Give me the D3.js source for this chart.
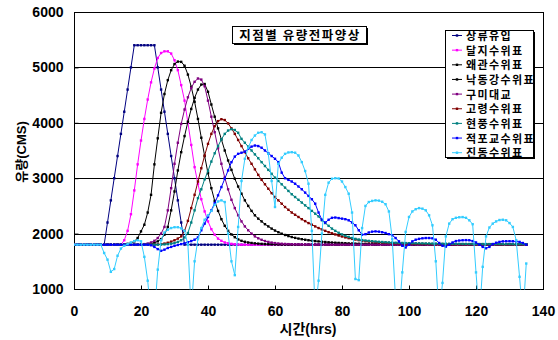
<!DOCTYPE html>
<html><head><meta charset="utf-8">
<script src="https://cdn.jsdelivr.net/npm/d3@7"></script>
<style>body{margin:0;background:#fff}</style>
</head><body><svg id="c" width="558" height="340"></svg>
<script>
const titleText = "지점별 유량전파양상";
const xLabel = "시간(hrs)";
const yLabel = "유량(CMS)";
const seriesNames = ["상류유입","달지수위표","왜관수위표","낙동강수위표","구미대교","고령수위표","현풍수위표","적포교수위표","진동수위표"];
const colors = ["#000080","#FF00FF","#000000","#000000","#800080","#800000","#008080","#0000FF","#33CCFF"];
const xTicks = [0,20,40,60,80,100,120,140];
const yTicks = [1000,2000,3000,4000,5000,6000];
const hours = d3.range(0,136);

const sangryu = [1800,1800,1800,1800,1800,1800,1800,1800,1800,1800,
 2200,2600,3000,3400,3800,4200,4600,5000,5400,5400,
 5400,5400,5400,5400,5400,5000,4600,4200,3800,3400,
 3000,2600,2200,1800,1800,1800,1800,1800,1800,1800,
 1800,1800,1800,1800,1800,1800,1800,1800,1800,1800,
 1800,1800,1800,1800,1800,1800,1800,1800,1800,1800,
 1800,1800,1800,1800,1800,1800,1800,1800,1800,1800,
 1800,1800,1800,1800,1800,1800,1800,1800,1800,1800,
 1800,1800,1800,1800,1800,1800,1800,1800,1800,1800,
 1800,1800,1800,1800,1800,1800,1800,1800,1800,1800,
 1800,1800,1800,1800,1800,1800,1800,1800,1800,1800,
 1800,1800,1800,1800,1800,1800,1800,1800,1800,1800,
 1800,1800,1800,1800,1800,1800,1800,1800,1800,1800,
 1800,1800,1800,1800,1800,1800];
const dalji = [1800,1800,1800,1800,1800,1800,1800,1800,1800,1800,
 1800,1800,1800,1800,1800,1880,2050,2350,2780,3250,
 3680,4070,4420,4730,4980,5170,5260,5290,5290,5250,
 5130,4950,4680,4400,4000,3600,3200,2900,2620,2400,
 2220,2080,1980,1910,1870,1840,1825,1815,1808,1803,
 1800,1800,1800,1800,1800,1800,1800,1800,1800,1800,
 1800,1800,1800,1800,1800,1800,1800,1800,1800,1800,
 1800,1800,1800,1800,1800,1800,1800,1800,1800,1800,
 1800,1800,1800,1800,1800,1800,1800,1800,1800,1800,
 1800,1800,1800,1800,1800,1800,1800,1800,1800,1800,
 1800,1800,1800,1800,1800,1800,1800,1800,1800,1800,
 1800,1800,1800,1800,1800,1800,1800,1800,1800,1800,
 1800,1800,1800,1800,1800,1800,1800,1800,1800,1800,
 1800,1800,1800,1800,1800,1800];
const waegwan = [1800,1800,1800,1800,1800,1800,1800,1800,1800,1800,
 1800,1800,1800,1800,1800,1805,1815,1830,1860,1920,
 2040,2160,2380,2700,3250,3720,4180,4520,4770,4950,
 5060,5105,5100,5030,4870,4650,4380,4070,3730,3400,
 3090,2820,2590,2410,2260,2140,2050,1985,1935,1895,
 1870,1852,1840,1831,1824,1819,1815,1811,1808,1806,
 1804,1803,1802,1801,1800,1800,1800,1800,1800,1800,
 1800,1800,1800,1800,1800,1800,1800,1800,1800,1800,
 1800,1800,1800,1800,1800,1800,1800,1800,1800,1800,
 1800,1800,1800,1800,1800,1800,1800,1800,1800,1800,
 1800,1800,1800,1800,1800,1800,1800,1800,1800,1800,
 1800,1800,1800,1800,1800,1800,1800,1800,1800,1800,
 1800,1800,1800,1800,1800,1800,1800,1800,1800,1800,
 1800,1800,1800,1800,1800,1800];
const nakdong = [1800,1800,1800,1800,1800,1800,1800,1800,1800,1800,
 1800,1800,1800,1800,1800,1800,1800,1800,1800,1800,
 1800,1805,1810,1820,1835,1860,1900,1980,2120,2420,
 2760,3140,3470,3760,4020,4250,4450,4600,4690,4700,
 4560,4330,4110,3900,3700,3500,3320,3150,2990,2850,
 2720,2600,2500,2410,2330,2270,2220,2170,2130,2090,
 2055,2025,1998,1975,1955,1938,1923,1910,1899,1889,
 1880,1872,1865,1859,1853,1848,1843,1839,1835,1832,
 1829,1826,1823,1821,1819,1817,1815,1813,1812,1811,
 1810,1809,1808,1807,1806,1805,1804,1803,1802,1801,
 1800,1800,1800,1800,1800,1800,1800,1800,1800,1800,
 1800,1800,1800,1800,1800,1800,1800,1800,1800,1800,
 1800,1800,1800,1800,1800,1800,1800,1800,1800,1800,
 1800,1800,1800,1800,1800,1800];
const gumi = [1800,1800,1800,1800,1800,1800,1800,1800,1800,1800,
 1800,1800,1800,1800,1800,1800,1800,1800,1800,1800,
 1805,1810,1820,1840,1870,1920,2000,2120,2420,2820,
 3260,3640,3980,4240,4460,4630,4740,4800,4780,4660,
 4400,4110,3830,3540,3260,3010,2800,2610,2460,2330,
 2220,2130,2060,2000,1950,1915,1888,1866,1850,1838,
 1829,1822,1817,1813,1810,1808,1806,1804,1803,1802,
 1801,1800,1800,1800,1800,1800,1800,1800,1800,1800,
 1800,1800,1800,1800,1800,1800,1800,1800,1800,1800,
 1800,1800,1800,1800,1800,1800,1800,1800,1800,1800,
 1800,1800,1800,1800,1800,1800,1800,1800,1800,1800,
 1800,1800,1800,1800,1800,1800,1800,1800,1800,1800,
 1800,1800,1800,1800,1800,1800,1800,1800,1800,1800,
 1800,1800,1800,1800,1800,1800];
const goryeong = [1800,1800,1800,1800,1800,1800,1800,1800,1800,1800,
 1800,1800,1800,1800,1800,1800,1800,1800,1800,1800,
 1800,1800,1800,1800,1800,1805,1810,1820,1835,1855,
 1880,1910,1950,2050,2230,2460,2700,2940,3180,3410,
 3620,3800,3940,4030,4065,4050,3990,3900,3800,3690,
 3580,3470,3360,3260,3160,3060,2970,2890,2810,2730,
 2660,2600,2540,2480,2430,2380,2340,2300,2260,2225,
 2190,2160,2130,2100,2075,2050,2025,2005,1985,1965,
 1948,1932,1918,1905,1893,1882,1872,1864,1857,1851,
 1846,1841,1837,1834,1831,1828,1826,1824,1822,1820,
 1819,1818,1817,1816,1815,1814,1813,1812,1812,1811,
 1811,1810,1810,1810,1809,1809,1809,1808,1808,1808,
 1807,1807,1807,1806,1806,1806,1806,1805,1805,1805,
 1805,1805,1804,1804,1804,1804];
const hyeonpung = [1800,1800,1800,1800,1800,1800,1800,1800,1800,1800,
 1800,1800,1800,1800,1800,1800,1800,1800,1800,1800,
 1800,1800,1800,1800,1800,1800,1802,1805,1810,1818,
 1830,1850,1880,1930,2010,2200,2420,2640,2800,2980,
 3130,3300,3450,3580,3700,3800,3860,3885,3870,3820,
 3710,3640,3570,3500,3430,3360,3290,3220,3150,3080,
 3010,2950,2890,2830,2770,2710,2660,2610,2560,2510,
 2460,2410,2360,2310,2240,2190,2140,2090,2050,2015,
 1985,1960,1940,1920,1905,1893,1883,1875,1868,1862,
 1857,1852,1848,1844,1841,1838,1835,1833,1831,1829,
 1827,1826,1825,1824,1823,1822,1821,1820,1819,1818,
 1817,1817,1816,1816,1815,1815,1814,1814,1813,1813,
 1813,1812,1812,1812,1811,1811,1811,1810,1810,1810,
 1810,1810,1809,1809,1809,1809];
const jeokpo = [1800,1800,1800,1800,1800,1800,1800,1800,1800,1800,
 1800,1800,1800,1800,1800,1800,1800,1800,1800,1800,
 1800,1800,1800,1790,1760,1720,1690,1710,1740,1760,
 1780,1795,1810,1825,1845,1865,1890,1930,2060,2180,
 2300,2420,2550,2690,2840,2990,3140,3290,3390,3440,
 3460,3480,3530,3570,3590,3580,3550,3500,3450,3400,
 3350,3290,3100,3000,2970,2940,2900,2850,2800,2740,
 2680,2620,2540,2380,2250,2200,2250,2285,2290,2280,
 2270,2260,2240,2200,2150,2060,1980,1990,2020,2035,
 2040,2035,2025,2010,1990,1970,1920,1860,1780,1750,
 1800,1860,1890,1905,1915,1920,1920,1915,1890,1830,
 1780,1765,1800,1840,1865,1875,1880,1882,1880,1865,
 1840,1800,1760,1735,1760,1810,1835,1850,1860,1862,
 1863,1862,1858,1850,1830,1800];
const jindong = [1800,1800,1800,1800,1800,1800,1800,1800,1800,1650,
 1530,1310,1360,1600,1730,1780,1810,1840,1865,1880,
 1860,1580,1150,500,500,1350,1880,2020,2070,2100,
 2115,2115,2095,2050,1800,600,1500,1900,2100,2250,
 2330,2410,2520,2580,2600,2570,2000,1500,1250,2120,
 2950,3350,3550,3690,3770,3820,3830,3790,3440,2950,
 2480,3260,3370,3440,3465,3470,3460,3410,3290,3130,
 2900,2050,600,1150,2000,2700,2920,2990,3000,2995,
 2940,2840,2720,2380,1180,1160,2100,2500,2570,2590,
 2600,2595,2575,2530,2400,1900,800,500,1300,2030,
 2300,2400,2440,2460,2450,2420,2330,2150,1500,500,
 1110,1950,2180,2260,2285,2295,2298,2285,2240,2170,
 1300,500,1400,1950,2110,2180,2220,2245,2250,2240,
 2190,2120,1880,1220,500,1460];

const seriesValues = [sangryu,dalji,waegwan,nakdong,gumi,goryeong,hyeonpung,jeokpo,jindong];

const svg = d3.select('#c');
const L=74,R=543,T=12,B=289;
const x = d3.scaleLinear().domain([0,140]).range([L,R]);
const y = d3.scaleLinear().domain([1000,6000]).range([B,T]);
const numFont = '"Liberation Sans", Arial, sans-serif';
const korFont = '"Liberation Sans", "Noto Sans CJK KR", sans-serif';

// gridlines
svg.append('g').selectAll('line').data(yTicks.filter(v=>v>1000&&v<6000)).join('line')
  .attr('x1',L).attr('x2',R).attr('y1',d=>Math.round(y(d))+0.5).attr('y2',d=>Math.round(y(d))+0.5)
  .attr('stroke','#000').attr('stroke-width',1);

// frame
svg.append('rect').attr('x',L+0.5).attr('y',T+0.5).attr('width',R-L).attr('height',B-T)
  .attr('fill','none').attr('stroke','#000').attr('stroke-width',1);

// axes
const ya = svg.append('g').attr('transform',`translate(${L+0.5},0)`)
  .call(d3.axisLeft(y).tickValues(yTicks).tickSizeInner(-4).tickSizeOuter(0).tickPadding(11).tickFormat(d3.format('d')));
const xa = svg.append('g').attr('transform',`translate(0,${B+0.5})`)
  .call(d3.axisBottom(x).tickValues(xTicks).tickSizeInner(-4).tickSizeOuter(0).tickPadding(17).tickFormat(d3.format('d')));
[ya,xa].forEach(a=>{
  a.select('.domain').remove();
  a.selectAll('.tick line').attr('stroke','#000');
  a.selectAll('text').attr('font-family',numFont).attr('font-weight','bold').attr('font-size','14px').attr('fill','#000');
});

// clip
svg.append('clipPath').attr('id','plotclip').append('rect').attr('x',L).attr('y',T).attr('width',R-L).attr('height',B-T+0.5);
const plot = svg.append('g').attr('clip-path','url(#plotclip)');
const line = d3.line().x((d,i)=>x(hours[i])).y(d=>y(d));
seriesValues.forEach((vals,si)=>{
  const g = plot.append('g');
  g.append('path').datum(vals).attr('d',line).attr('fill','none').attr('stroke',colors[si]).attr('stroke-width',1);
  g.selectAll('rect').data(vals).join('rect')
    .attr('x',(d,i)=>x(hours[i])-1.2).attr('y',d=>y(d)-1.2).attr('width',2.4).attr('height',2.4)
    .attr('fill',colors[si]);
});

// axis titles
svg.append('text').attr('x',308).attr('y',334).attr('text-anchor','middle')
  .attr('font-family',korFont).attr('font-weight','bold').attr('font-size','14px').text(xLabel);
svg.append('text').attr('transform','translate(26,152) rotate(-90)').attr('text-anchor','middle')
  .attr('font-family',korFont).attr('font-weight','bold').attr('font-size','13px').text(yLabel);

// title box
svg.append('rect').attr('x',234).attr('y',28).attr('width',134).attr('height',17).attr('fill','#000');
svg.append('rect').attr('x',232.5).attr('y',26.5).attr('width',134).attr('height',17).attr('fill','#fff').attr('stroke','#000');
svg.append('text').attr('x',300).attr('y',40).attr('text-anchor','middle')
  .attr('font-family','"Noto Sans CJK KR", sans-serif').attr('font-weight','bold').attr('font-size','12.5px')
  .attr('letter-spacing','1.5px').text(titleText);

// legend
const lx=445, ly=30, lw=88, lh=127;
svg.append('rect').attr('x',lx+2).attr('y',ly+2).attr('width',lw).attr('height',lh).attr('fill','#000');
svg.append('rect').attr('x',lx+0.5).attr('y',ly+0.5).attr('width',lw).attr('height',lh).attr('fill','#fff').attr('stroke','#000');
const items = svg.append('g').selectAll('g').data(seriesNames).join('g')
  .attr('transform',(d,i)=>`translate(${lx},${ly+5.5+i*14.65})`);
items.append('line').attr('x1',7).attr('x2',17).attr('y1',0).attr('y2',0).attr('stroke',(d,i)=>colors[i]);
items.append('rect').attr('x',10.8).attr('y',-1.2).attr('width',2.4).attr('height',2.4).attr('fill',(d,i)=>colors[i]);
items.append('text').attr('x',21).attr('y',4.5)
  .attr('font-family','"Noto Sans CJK KR", sans-serif').attr('font-weight','bold').attr('font-size','11px')
  .attr('letter-spacing','1.4px').text(d=>d);
</script></body></html>
